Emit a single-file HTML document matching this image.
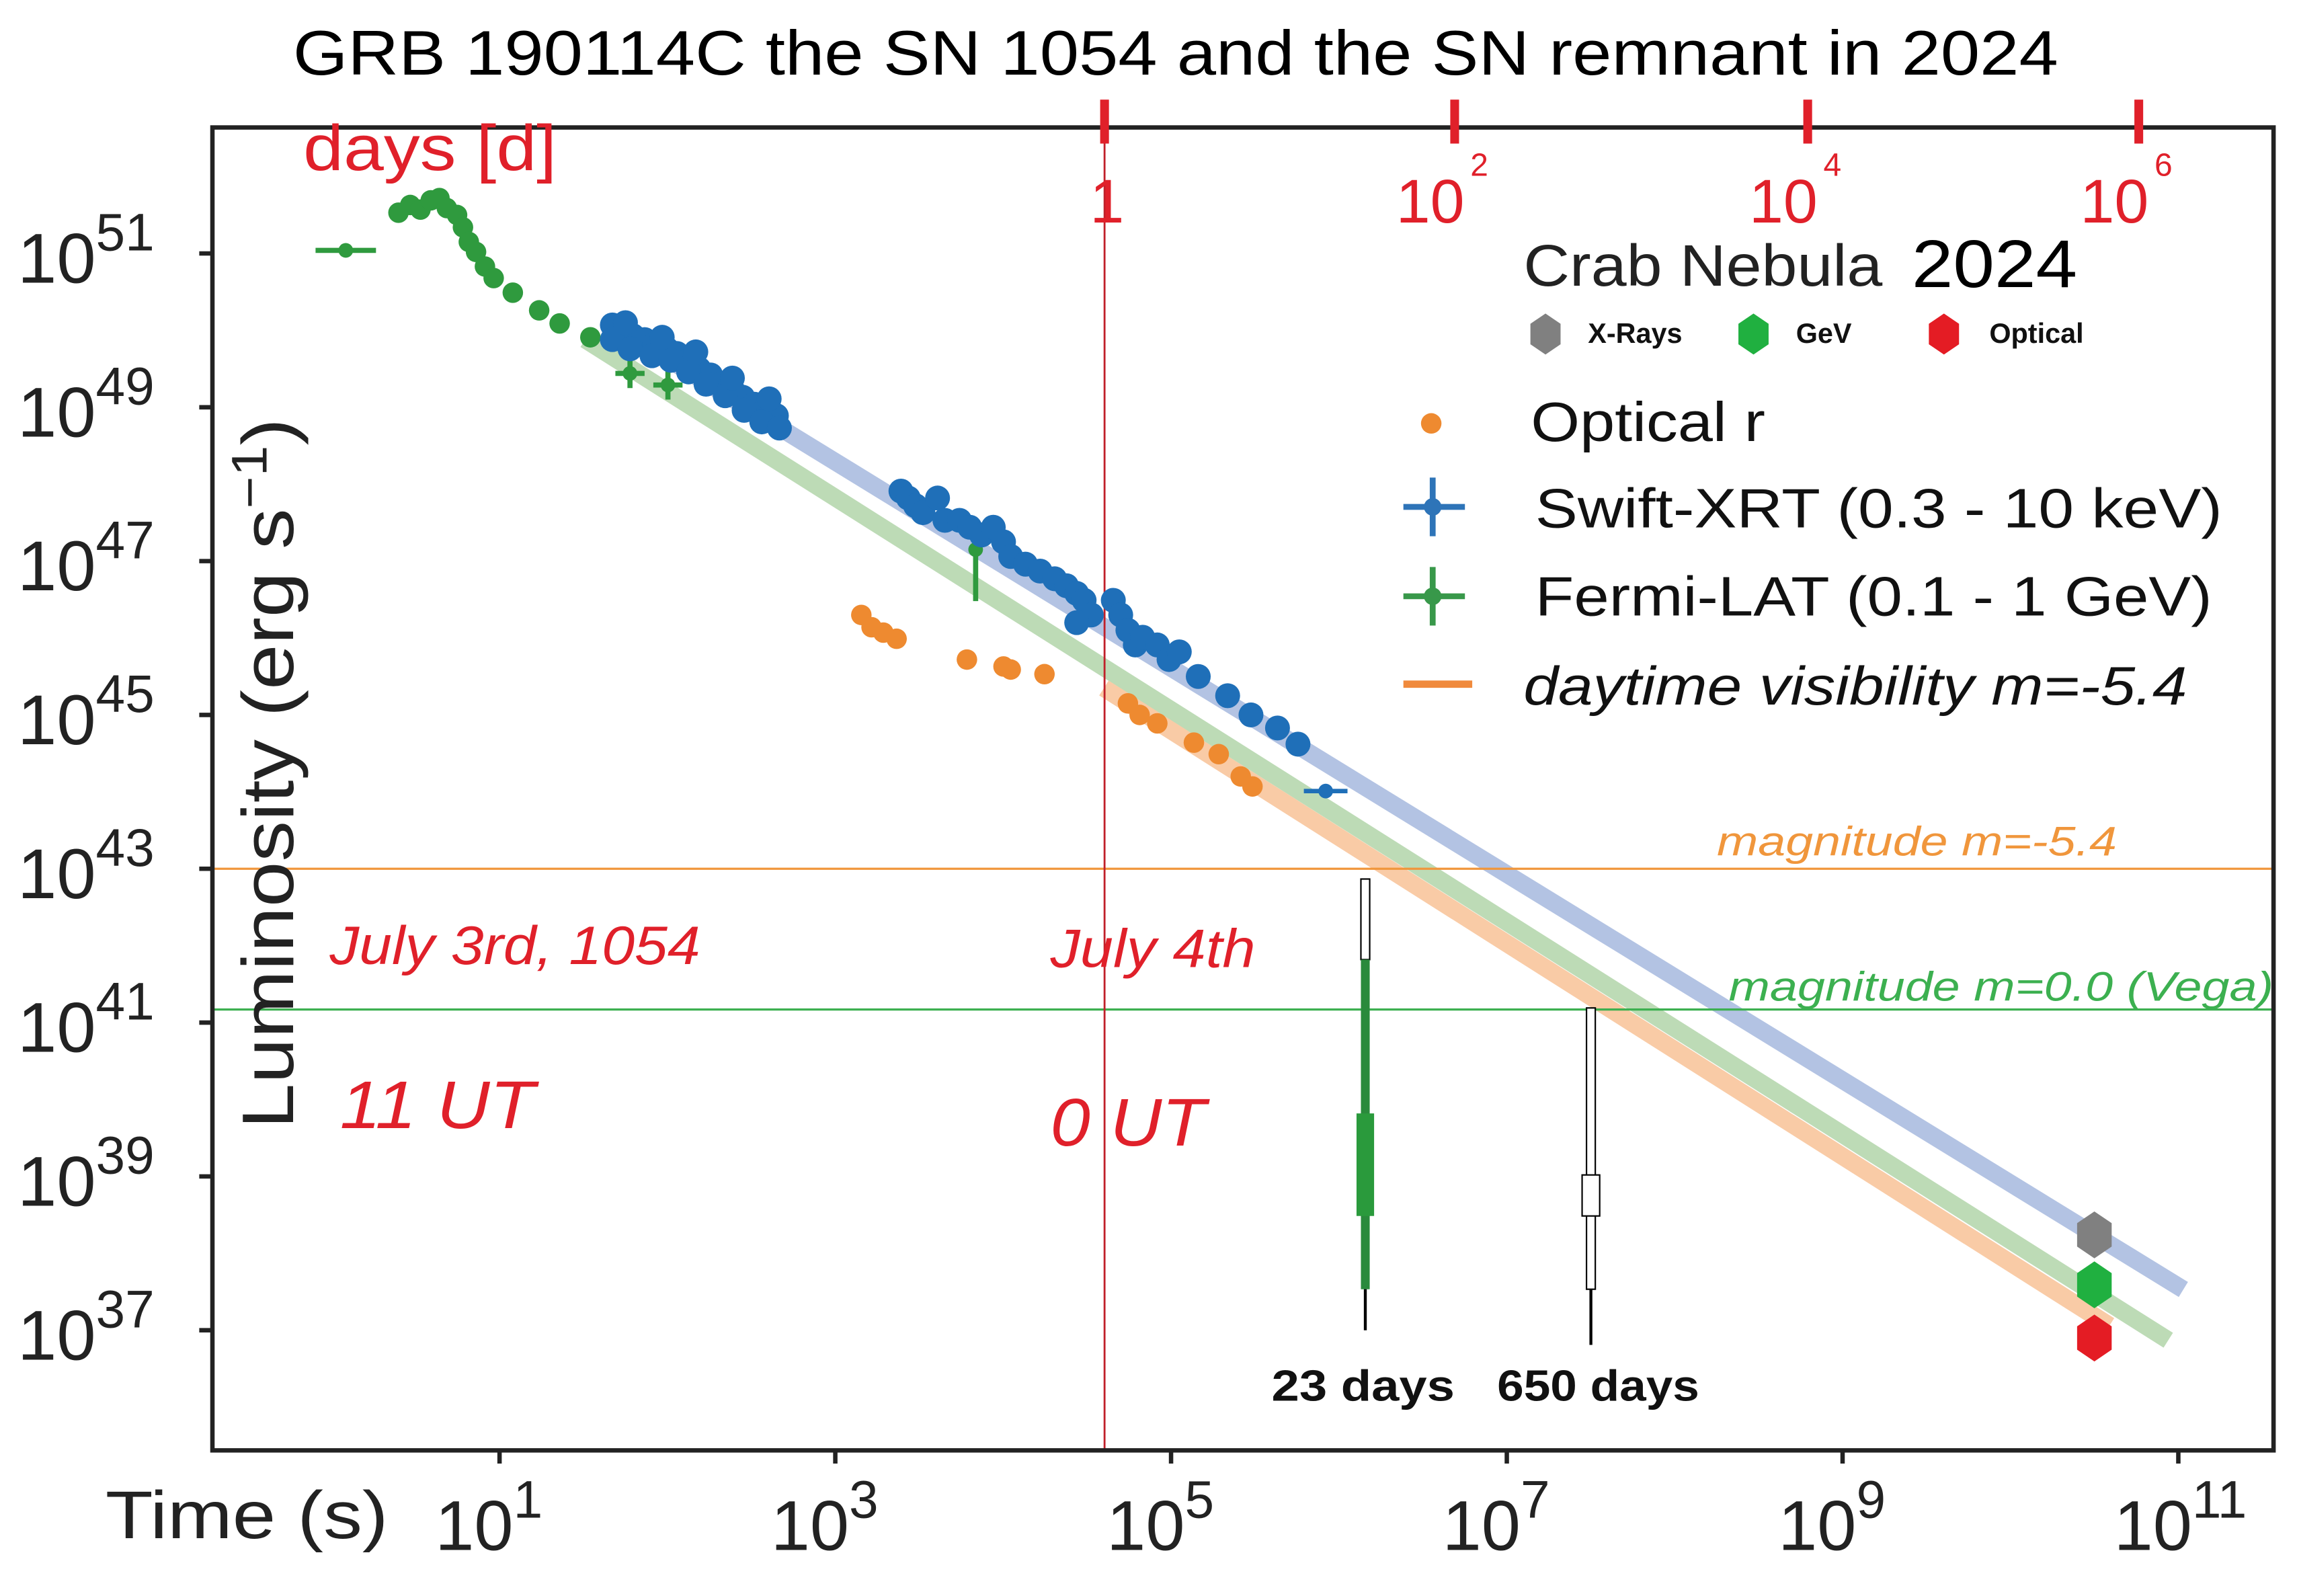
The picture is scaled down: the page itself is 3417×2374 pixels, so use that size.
<!DOCTYPE html>
<html><head><meta charset="utf-8">
<style>
html,body{margin:0;padding:0;background:#fff;}
svg{display:block;}
text{font-family:"Liberation Sans",sans-serif;}
</style></head>
<body>
<svg id="chart" xmlns="http://www.w3.org/2000/svg" width="3417" height="2374" viewBox="0 0 1568 1089.4">
<rect x="0" y="0" width="1568" height="1090" fill="#fff"/>
<g id="bands"></g>
<g id="hlines"></g>
<g id="marks"></g>
<g id="frame"></g>
<g id="texts">
<text x="200" y="51" font-size="43" textLength="1205" lengthAdjust="spacingAndGlyphs" fill="#000">GRB 190114C   the SN 1054  and the SN remnant in 2024</text>
<text x="207" y="116" font-size="44" textLength="173" lengthAdjust="spacingAndGlyphs" fill="#e0202a">days [d]</text>
<text transform="translate(200,528) rotate(-90)" text-anchor="middle" font-size="50" textLength="485" lengthAdjust="spacingAndGlyphs" fill="#222">Luminosity (erg s<tspan dy="-18" font-size="34">−1</tspan><tspan dy="18">)</tspan></text>
<text x="72" y="1050" font-size="46" textLength="193" lengthAdjust="spacingAndGlyphs" fill="#222">Time (s)</text>
<text x="1040" y="195" font-size="40" textLength="245" lengthAdjust="spacingAndGlyphs" fill="#222">Crab Nebula</text>
<text x="1305" y="196" font-size="46" textLength="113" lengthAdjust="spacingAndGlyphs" fill="#000">2024</text>
<text x="1084" y="234" font-size="19" font-weight="bold" fill="#111">X-Rays</text>
<text x="1226" y="234" font-size="19" font-weight="bold" fill="#111">GeV</text>
<text x="1358" y="234" font-size="19" font-weight="bold" fill="#111">Optical</text>
<text x="1045" y="301" font-size="38" textLength="160" lengthAdjust="spacingAndGlyphs" fill="#111">Optical r</text>
<text x="1048" y="360" font-size="38" textLength="469" lengthAdjust="spacingAndGlyphs" fill="#111">Swift-XRT (0.3 - 10 keV)</text>
<text x="1048" y="420" font-size="38" textLength="462" lengthAdjust="spacingAndGlyphs" fill="#111">Fermi-LAT (0.1 - 1 GeV)</text>
<text x="1040" y="481" font-size="37" textLength="453" lengthAdjust="spacingAndGlyphs" font-style="italic" fill="#111">daytime visibility m=-5.4</text>
<text x="1172" y="584" font-size="28" textLength="273" lengthAdjust="spacingAndGlyphs" font-style="italic" fill="#f0963c">magnitude m=-5.4</text>
<text x="1180" y="683" font-size="28" textLength="372" lengthAdjust="spacingAndGlyphs" font-style="italic" fill="#3cb050">magnitude m=0.0  (Vega)</text>
<text x="225" y="658" font-size="37" textLength="253" lengthAdjust="spacingAndGlyphs" font-style="italic" fill="#e0202a">July 3rd, 1054</text>
<text x="717" y="660" font-size="37" textLength="140" lengthAdjust="spacingAndGlyphs" font-style="italic" fill="#e0202a">July 4th</text>
<text x="232" y="770" font-size="46" textLength="133" lengthAdjust="spacingAndGlyphs" font-style="italic" fill="#e0202a">11 UT</text>
<text x="717" y="782" font-size="46" textLength="106" lengthAdjust="spacingAndGlyphs" font-style="italic" fill="#e0202a">0 UT</text>
<text x="868" y="956" font-size="30" textLength="125" lengthAdjust="spacingAndGlyphs" font-weight="bold" fill="#111">23 days</text>
<text x="1022" y="956" font-size="30" textLength="138" lengthAdjust="spacingAndGlyphs" font-weight="bold" fill="#111">650 days</text>
</g>
</svg>
<script>
// ---- data (log10 time [s], log10 luminosity [erg/s]) ----
const yTicks = [51, 49, 47, 45, 43, 41, 39, 37];
const xTicks = [1, 3, 5, 7, 9, 11];
const dayTickLabels = ["1", "10", "10", "10"];
const dayTickExps = ["", "2", "4", "6"];
const fermiDotT = [0.398,0.468,0.529,0.590,0.642,0.686,0.747,0.782,0.817,0.860,0.913,0.965,1.079,1.236,1.358,1.541];
const fermiDotL = [51.53,51.63,51.57,51.69,51.72,51.59,51.50,51.34,51.15,51.02,50.83,50.68,50.49,50.26,50.09,49.91];
const fermiCrossT = [0.084, 1.777, 2.003, 3.836];
const fermiCrossL = [51.04, 49.44, 49.29, 47.15];
const fermiCrossXerr = [0.18, 0.087, 0.087, 0.0];
const fermiCrossYerrUp = [0.0, 0.19, 0.19, 0.29];
const fermiCrossYerrDn = [0.0, 0.19, 0.19, 0.67];
const opticalT = [3.155,3.216,3.286,3.365,3.784,4.002,4.045,4.246,4.743,4.813,4.918,5.136,5.284,5.415,5.485];
const opticalL = [46.30,46.14,46.07,45.99,45.72,45.63,45.59,45.53,45.15,45.00,44.89,44.64,44.49,44.20,44.07];
const swiftT = [1.672,1.733,1.794,1.864,1.925,1.995,2.056,2.126,2.187,2.257,2.318,2.387,2.449,2.518,2.579,2.649,
  1.672,1.777,1.908,2.021,2.126,2.230,2.344,2.457,2.562,2.667,1.750,1.969,2.169,2.387,2.606,
  3.391,3.435,3.478,3.522,3.609,3.653,3.740,3.801,3.871,3.941,4.002,4.045,4.133,4.220,4.307,4.377,4.438,4.482,4.525,4.438,4.656,4.700,4.743,4.787,4.831,4.918,4.988,5.049,
  5.162,5.337,5.476,5.634,5.756];
const swiftL = [50.07,49.99,49.93,49.88,49.82,49.76,49.70,49.61,49.50,49.42,49.30,49.23,49.13,49.04,48.96,48.89,
  49.88,49.76,49.67,49.61,49.46,49.30,49.15,48.96,48.81,48.73,50.10,49.91,49.72,49.38,49.11,
  47.91,47.82,47.72,47.63,47.82,47.53,47.53,47.44,47.34,47.44,47.25,47.06,46.96,46.87,46.77,46.68,46.58,46.49,46.30,46.20,46.49,46.30,46.10,45.91,46.01,45.91,45.72,45.82,
  45.50,45.25,45.00,44.83,44.62];
const swiftCrossT = [5.921];
const swiftCrossL = [44.01];
const bandNames = ["blue-fit-band","green-fit-band","orange-fit-band"];
const bandT0 = [1.65, 1.51, 4.60];
const bandL0 = [50.10, 49.88, 45.35];
const bandT1 = [11.03, 10.94, 10.59];
const bandL1 = [37.53, 36.87, 37.06];
const bandColors = ["#b3c3e3","#bddbb6","#f9cba6"];
const hLineL = [43.0, 41.17];
const hLineColors = ["#f0963c","#3cb050"];
const crabT = [10.50, 10.50, 10.50];
const crabL = [38.24, 37.59, 36.90];
const crabColors = ["#808080","#20b040","#e41c24"];

// ---- axes ----
const X = t => 341 + (t - 1) * 114.6;
const Y = l => 173 + (51 - l) * 52.5;
const NS = "http://www.w3.org/2000/svg";
function mk(parent, tag, attrs) {
  const e = document.createElementNS(NS, tag);
  for (const k in attrs) e.setAttribute(k, attrs[k]);
  document.getElementById(parent).appendChild(e);
  return e;
}
function hex(cx, cy, r) {
  let p = [];
  for (let i = 0; i < 6; i++) { const a = Math.PI / 6 + i * Math.PI / 3; p.push((cx + r * 0.85 * Math.cos(a)).toFixed(1) + "," + (cy + r * Math.sin(a)).toFixed(1)); }
  return p.join(" ");
}

for (let i = 0; i < bandT0.length; i++) {
  const e = mk("bands", "line", {x1: X(bandT0[i]), y1: Y(bandL0[i]), x2: X(bandT1[i]), y2: Y(bandL1[i]), stroke: bandColors[i], "stroke-width": 12});
  
  
}
for (let i = 0; i < hLineL.length; i++) {
  const e = mk("hlines", "line", {x1: 145, x2: 1552, y1: Y(hLineL[i]), y2: Y(hLineL[i]), stroke: hLineColors[i], "stroke-width": 1.5});
  
  
}
{
  const e = mk("hlines", "line", {x1: 754, x2: 754, y1: 87, y2: 990, stroke: "#c0202a", "stroke-width": 1.3});
  
  
}
{
  let e = mk("marks", "rect", {x: 929, y: 600, width: 6, height: 55, fill: "#fff", stroke: "#000", "stroke-width": 1});
  
  
  e = mk("marks", "rect", {x: 929, y: 655, width: 6, height: 225, fill: "#2a8a3c"});
  
  
  e = mk("marks", "rect", {x: 926, y: 760, width: 12, height: 70, fill: "#2a9a3c"});
  
  
  e = mk("marks", "line", {x1: 932, x2: 932, y1: 880, y2: 908, stroke: "#000", "stroke-width": 2});
  
  
  e = mk("marks", "rect", {x: 1083, y: 688, width: 6, height: 192, fill: "#fff", stroke: "#000", "stroke-width": 1});
  
  
  e = mk("marks", "rect", {x: 1080, y: 802, width: 12, height: 28, fill: "#fff", stroke: "#000", "stroke-width": 1});
  
  
  e = mk("marks", "line", {x1: 1086, x2: 1086, y1: 880, y2: 918, stroke: "#000", "stroke-width": 2});
  
  
}
for (let i = 0; i < fermiDotT.length; i++) {
  const e = mk("marks", "circle", {cx: X(fermiDotT[i]), cy: Y(fermiDotL[i]), r: 7, fill: "#2f9a3e"});
  
  
}
for (let i = 0; i < fermiCrossT.length; i++) {
  const cx = X(fermiCrossT[i]), cy = Y(fermiCrossL[i]);
  const e = mk("marks", "path", {d: `M${X(fermiCrossT[i]-fermiCrossXerr[i])},${cy}H${X(fermiCrossT[i]+fermiCrossXerr[i])}M${cx},${Y(fermiCrossL[i]+fermiCrossYerrUp[i])}V${Y(fermiCrossL[i]-fermiCrossYerrDn[i])}`, stroke: "#2f9a3e", "stroke-width": 3.5, fill: "none"});
  
  
  const c = mk("marks", "circle", {cx: cx, cy: cy, r: 5, fill: "#2f9a3e"});
  
  
}
for (let i = 0; i < swiftT.length; i++) {
  const e = mk("marks", "circle", {cx: X(swiftT[i]), cy: Y(swiftL[i]), r: 8.5, fill: "#1f6fb8"});
  
  
}
for (let i = 0; i < swiftCrossT.length; i++) {
  const cx = X(swiftCrossT[i]), cy = Y(swiftCrossL[i]);
  const e = mk("marks", "path", {d: `M${X(swiftCrossT[i]-0.13)},${cy}H${X(swiftCrossT[i]+0.13)}`, stroke: "#1f6fb8", "stroke-width": 3});
  
  
  const c = mk("marks", "circle", {cx: cx, cy: cy, r: 5, fill: "#1f6fb8"});
  
  
}
for (let i = 0; i < opticalT.length; i++) {
  const e = mk("marks", "circle", {cx: X(opticalT[i]), cy: Y(opticalL[i]), r: 7, fill: "#ee8a30"});
  
  
}
for (let i = 0; i < crabT.length; i++) {
  const e = mk("marks", "polygon", {points: hex(X(crabT[i]), Y(crabL[i]), 16), fill: crabColors[i]});
  
  
}
{
  const lh = [[1055,"#808080"],[1197,"#20b040"],[1327,"#e41c24"]];
  for (const h of lh) {
    const e = mk("marks", "polygon", {points: hex(h[0], 228, 14), fill: h[1]});
    
    
  }
  let e = mk("marks", "circle", {cx: 977, cy: 289, r: 7, fill: "#ee8a30"});
  
  
  e = mk("marks", "path", {d: "M958,346H1000M978,326V366", stroke: "#2e74b8", "stroke-width": 4});
  
  
  e = mk("marks", "circle", {cx: 978, cy: 346, r: 6, fill: "#2e74b8"});
  
  
  e = mk("marks", "path", {d: "M958,407H1000M978,387V427", stroke: "#38984a", "stroke-width": 4});
  
  
  e = mk("marks", "circle", {cx: 978, cy: 407, r: 6, fill: "#38984a"});
  
  
  e = mk("marks", "line", {x1: 958, x2: 1005, y1: 467, y2: 467, stroke: "#f08a3c", "stroke-width": 5});
  
  
}
{
  const e = mk("frame", "rect", {x: 145, y: 87, width: 1407, height: 903, fill: "none", stroke: "#222", "stroke-width": 3});
  
  
}
for (let i = 0; i < yTicks.length; i++) {
  const y = Y(yTicks[i]);
  const t = mk("frame", "line", {x1: 136, x2: 145, y1: y, y2: y, stroke: "#222", "stroke-width": 3});
  
  
  const lab = mk("frame", "text", {x: 12, y: y + 20, "font-size": 48, fill: "#222"});
  
  
  lab.innerHTML = `10<tspan dy="-22" font-size="36">${yTicks[i]}</tspan>`;
}
for (let i = 0; i < xTicks.length; i++) {
  const x = X(xTicks[i]);
  const t = mk("frame", "line", {x1: x, x2: x, y1: 990, y2: 999, stroke: "#222", "stroke-width": 3});
  
  
  const lab = mk("frame", "text", {x: x - 44, y: 1058, "font-size": 48, fill: "#222"});
  
  
  lab.innerHTML = `10<tspan dy="-22" font-size="36">${xTicks[i]}</tspan>`;
}
const dayX = [754, 993, 1234, 1460];
for (let i = 0; i < dayTickLabels.length; i++) {
  const t = mk("frame", "rect", {x: dayX[i] - 3, y: 68, width: 6, height: 30, fill: "#e0202a"});
  
  
  const lab = mk("frame", "text", {x: dayX[i] - (i === 0 ? 10 : 40), y: 152, "font-size": 42, fill: "#e0202a"});
  
  
  lab.innerHTML = dayTickLabels[i] + (dayTickExps[i] ? `<tspan dx="4" dy="-32" font-size="22">${dayTickExps[i]}</tspan>` : "");
}
</script>
</body></html>
